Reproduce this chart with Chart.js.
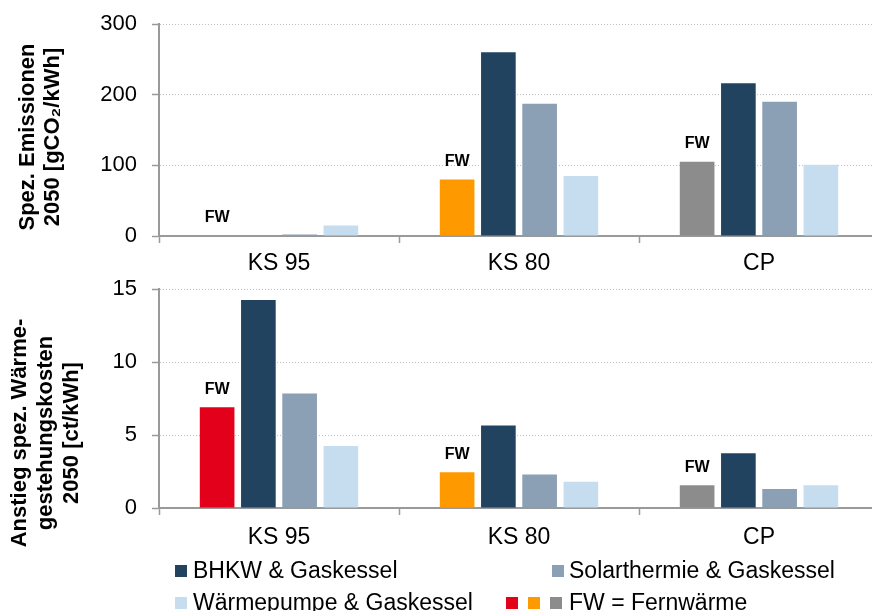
<!DOCTYPE html>
<html>
<head>
<meta charset="utf-8">
<script src="https://cdn.jsdelivr.net/npm/chart.js@4.4.0/dist/chart.umd.min.js"></script>
<style>
  body { margin: 0; background: #fff; }
  #wrap { position: relative; width: 872px; height: 611px; overflow: hidden; font-family: "Liberation Sans", Arial, sans-serif; }
  canvas { position: absolute; left: 0; }
  #top { top: 0; }
  #bottom { top: 275px; }
  .sq { position: absolute; width: 12px; height: 12px; }
  .lt { position: absolute; font-size: 23px; line-height: 26px; color: #000; white-space: nowrap; }
</style>
</head>
<body>
<div id="wrap">
  <canvas id="top" width="879" height="280"></canvas>
  <canvas id="bottom" width="879" height="290"></canvas>

  <div class="sq" style="left:175px;top:565px;background:#21435F"></div>
  <div class="lt" style="left:193px;top:557px">BHKW &amp; Gaskessel</div>
  <div class="sq" style="left:552px;top:565px;background:#8BA0B4"></div>
  <div class="lt" style="left:569px;top:557px">Solarthermie &amp; Gaskessel</div>

  <div class="sq" style="left:175px;top:597px;background:#C6DDF0"></div>
  <div class="lt" style="left:193px;top:589px">Wärmepumpe &amp; Gaskessel</div>
  <div class="sq" style="left:506px;top:597px;background:#E3001B"></div>
  <div class="sq" style="left:528px;top:597px;background:#FF9900"></div>
  <div class="sq" style="left:550px;top:597px;background:#8C8C8C"></div>
  <div class="lt" style="left:569px;top:589px">FW = Fernwärme</div>
</div>
<script>
// Categories and values
const categories = ['KS 95', 'KS 80', 'CP'];

// Spez. Emissionen 2050 [gCO2/kWh]
const emisFW = [0, 80, 105];
const emisBHKW = [0, 260, 216];
const emisSolar = [2, 187, 190];
const emisWP = [15, 85, 101];

// Anstieg spez. Wärmegestehungskosten 2050 [ct/kWh]
const costFW = [6.9, 2.45, 1.55];
const costBHKW = [14.25, 5.65, 3.75];
const costSolar = [7.85, 2.3, 1.3];
const costWP = [4.25, 1.8, 1.55];

const emisMax = 300, emisStep = 100;
const costMax = 15, costStep = 5;

const topTitle = ['Spez. Emissionen', '2050 [gCO\u2082/kWh]'];
const bottomTitle = ['Anstieg spez. Wärme-', 'gestehungskosten', '2050 [ct/kWh]'];

const FONT = '"Liberation Sans", Arial, sans-serif';
const fwColors = ['#E3001B', '#FF9900', '#8C8C8C'];
const colBHKW = '#21435F';
const colSolar = '#8BA0B4';
const colWP = '#C6DDF0';
const axisGrey = '#999999';

// "FW" label above the first bar of every group
const fwLabelPlugin = {
    id: 'fwLabel',
    afterDatasetsDraw(chart) {
        const ctx = chart.ctx;
        const meta = chart.getDatasetMeta(0);
        ctx.save();
        ctx.font = 'bold 16px ' + FONT;
        ctx.fillStyle = '#000';
        ctx.textAlign = 'center';
        ctx.textBaseline = 'middle';
        meta.data.forEach(bar => {
            ctx.fillText('FW', bar.x, bar.y - 18);
        });
        ctx.restore();
    }
};

// Rotated multi-line y axis title
const sideTitlePlugin = {
    id: 'sideTitle',
    afterDraw(chart, args, opts) {
        const ctx = chart.ctx;
        ctx.save();
        ctx.font = 'bold 22px ' + FONT;
        ctx.fillStyle = '#000';
        ctx.textAlign = 'center';
        ctx.textBaseline = 'middle';
        opts.lines.forEach((line, i) => {
            ctx.save();
            ctx.translate(opts.xs[i], opts.cy);
            ctx.rotate(-Math.PI / 2);
            ctx.fillText(line, 0, 0);
            ctx.restore();
        });
        ctx.restore();
    }
};

function makeChart(canvasId, fw, bhkw, solar, wp, max, step, padTop, xHeight, xPad, title) {
    const ctx = document.getElementById(canvasId).getContext('2d');
    return new Chart(ctx, {
        type: 'bar',
        data: {
            labels: categories,
            datasets: [
                { label: 'FW', data: fw, backgroundColor: fwColors },
                { label: 'BHKW & Gaskessel', data: bhkw, backgroundColor: colBHKW },
                { label: 'Solarthermie & Gaskessel', data: solar, backgroundColor: colSolar },
                { label: 'Wärmepumpe & Gaskessel', data: wp, backgroundColor: colWP }
            ]
        },
        options: {
            responsive: false,
            animation: false,
            layout: { padding: { top: padTop, left: 0, right: 0, bottom: 0 } },
            datasets: {
                bar: { categoryPercentage: 0.6875, barPercentage: 0.84, borderWidth: 0 }
            },
            plugins: {
                legend: { display: false },
                tooltip: { enabled: false },
                sideTitle: title
            },
            scales: {
                x: {
                    offset: true,
                    grid: {
                        offset: true,
                        drawOnChartArea: false,
                        drawTicks: true,
                        tickLength: 7,
                        tickColor: axisGrey,
                        tickWidth: 1.5
                    },
                    border: { display: true, color: axisGrey, width: 2 },
                    ticks: { color: '#000', font: { family: FONT, size: 23 }, padding: xPad },
                    afterFit(scale) {
                        scale.height = xHeight;
                        scale.paddingLeft = 0;
                        scale.paddingRight = 0;
                    }
                },
                y: {
                    min: 0,
                    max: max,
                    ticks: { stepSize: step, color: '#000', font: { family: FONT, size: 22 }, padding: 15 },
                    grid: {
                        color: '#BFBFBF',
                        lineWidth: 1,
                        drawTicks: true,
                        tickLength: 7,
                        tickColor: axisGrey,
                        tickWidth: 1.5
                    },
                    border: { display: true, color: axisGrey, width: 2, dash: [1, 2] },
                    afterFit(scale) {
                        scale.width = 159;
                        scale.paddingTop = 0;
                        scale.paddingBottom = 0;
                    }
                }
            }
        },
        plugins: [fwLabelPlugin, sideTitlePlugin]
    });
}

makeChart('top', emisFW, emisBHKW, emisSolar, emisWP, emisMax, emisStep, 24, 44, 7,
    { lines: topTitle, xs: [28, 53], cy: 137 });
makeChart('bottom', costFW, costBHKW, costSolar, costWP, costMax, costStep, 14, 57, 9,
    { lines: bottomTitle, xs: [20, 46, 72], cy: 158 });
</script>
</body>
</html>
